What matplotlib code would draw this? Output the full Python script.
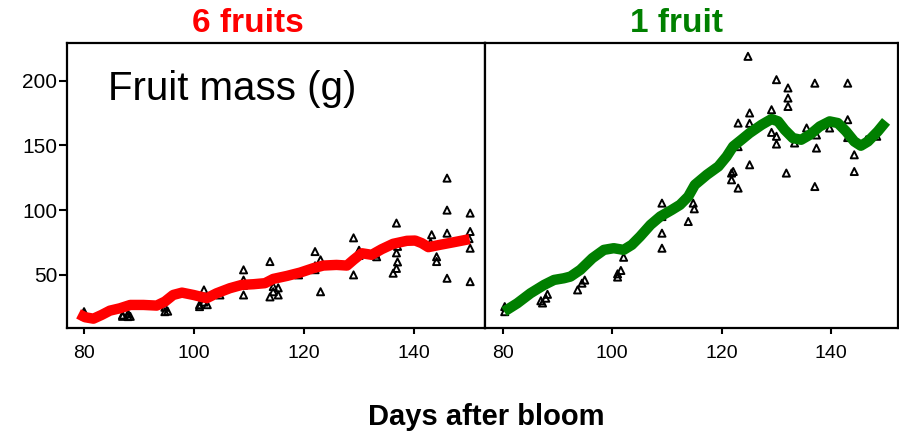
import matplotlib
matplotlib.use("Agg")
import matplotlib.pyplot as plt

plt.rcParams['font.family'] = ['Liberation Sans', 'DejaVu Sans']

# ---- data: 6 fruits (left) ----
six_x = [80, 80, 80, 87, 87, 88, 88, 88.4, 94.7, 94.7, 95.2,
         101, 101, 101.8, 101.8, 102.4, 104.7,
         109, 109, 109, 109, 113.8, 113.8, 114.4, 114.4, 115.3, 115.3, 119,
         122, 122, 122, 123, 123, 129, 129, 130, 130, 130, 133.2, 133,
         136.2, 136.8, 136.8, 136.8, 137, 137, 143.2, 143, 144.1, 144.1,
         146, 146, 146, 146, 150.2, 150.2, 150.2, 150.2, 150]
six_y = [21.6, 18.5, 20, 18, 19, 17.8, 20, 18, 21.6, 25, 22,
         25.5, 27, 29, 38.4, 27, 34.5,
         53.9, 46, 34.5, 42, 60.3, 33, 41, 37, 34.5, 40, 50,
         68, 54, 57, 61.6, 37, 78.6, 50, 69, 66, 65, 64, 66,
         51.3, 90, 67, 55, 60, 72, 81, 75, 60.3, 64,
         124.7, 100, 82.2, 47.4, 97.7, 83.5, 70.6, 44.8, 78]
six_fit_x = [79.0, 80.2, 81.7, 83.2, 84.7, 86.5, 88.4, 90.8, 93.2, 94.7,
             96.2, 97.8, 99.9, 102.3, 104.1, 106.5, 108.7, 110.8, 112.9,
             114.4, 116.9, 119.3, 121.7, 123.5, 125.9, 127.8, 129.0, 130.5,
             132.3, 134.1, 136.2, 138.7, 140.2, 141.4, 142.6, 144.7, 147.2,
             150.1]
six_fit_y = [19.9, 17.3, 16.2, 19.1, 22.4, 24.2, 26.8, 26.8, 26.3, 29.4,
             34.5, 36.3, 34.5, 32.0, 35.8, 39.7, 42.3, 42.8, 43.6,
             46.9, 49.2, 51.8, 55.2, 57.2, 57.7, 57.2, 61.6, 66.7,
             65.5, 69.8, 74.0, 76.3, 76.5, 74.5, 71.4, 73.2, 75.2,
             77.6]

# ---- data: 1 fruit (right) ----
one_x = [80.4, 80.4, 87, 87.3, 87.9, 88.2, 93.7, 94.5, 95,
         101, 101, 101.6, 102.1, 109.1, 109.1, 109.1, 109.1,
         113.9, 114.8, 115, 121.8, 121.8, 122.1, 123, 123, 123,
         124.8, 125.1, 125.1, 125.1, 129.1, 129.1, 130, 130, 130,
         132.1, 132.1, 132.1, 131.8, 133.3, 135.5, 137, 137.3, 137.3, 137,
         139.7, 143, 143, 143, 144.2, 144.2, 146.4, 148.3]
one_y = [21.6, 25.5, 30, 28.3, 32, 35, 38.4, 43.6, 46,
         50.8, 48.3, 53.4, 63.6, 105.4, 95, 82.2, 70.6,
         91.2, 105.4, 101, 128.6, 123.4, 129.8, 117, 167.2, 149,
         218.7, 175, 167, 135, 177.5, 160, 200.7, 157, 151,
         194.3, 186.5, 180, 128.6, 151.8, 163.4, 198, 147.9, 158, 118.2,
         163.4, 198, 169.8, 156, 142.7, 129.8, 154.3, 157]
one_fit_x = [80.3, 82.7, 85.1, 87.6, 89.4, 91.2, 92.4, 94.2, 96.4, 98.5,
             100.3, 102.1, 103.6, 105.1, 107.0, 108.8, 110.9, 112.4, 113.9,
             115.1, 117.3, 119.4, 120.9, 122.1, 123.6, 125.1, 127.3, 129.1,
             130.3, 131.5, 133.0, 134.5, 136.1, 137.9, 139.7, 141.2, 142.7,
             144.2, 145.4, 146.7, 148.5, 150.0]
one_fit_y = [21.7, 28.1, 35.8, 42.3, 46.1, 47.4, 48.7, 53.9, 62.9, 69.3,
             70.6, 69.3, 73.2, 79.6, 88.6, 95.1, 100.2, 104.1, 110.5,
             119.5, 127.3, 133.7, 141.4, 149.2, 154.3, 159.5, 165.9, 170.3,
             168.5, 162.0, 155.6, 154.3, 158.2, 164.6, 168.5, 167.2, 160.8,
             153.0, 149.7, 153.0, 160.8, 168.5]

x_ticks = [80, 100, 120, 140]
y_ticks = [50, 100, 150, 200]

W, H = 899, 436
fig = plt.figure(figsize=(W / 100, H / 100), dpi=100)

top = 1 - 43 / H
bot = 1 - 328 / H
axL = fig.add_axes([67 / W, bot, (485 - 67) / W, top - bot])
axR = fig.add_axes([485 / W, bot, (899 - 485) / W - 0.001, top - bot])

for ax, xs, ys, fx, fy, col in [
        (axL, six_x, six_y, six_fit_x, six_fit_y, '#ff0000'),
        (axR, one_x, one_y, one_fit_x, one_fit_y, '#007f00')]:
    ax.scatter(xs, ys, marker='^', s=26, facecolors='none',
               edgecolors='black', linewidths=1.4, zorder=2)
    ax.plot(fx, fy, color=col, lw=7.5, solid_capstyle='butt',
            solid_joinstyle='round', zorder=3)
    ax.set_ylim(9, 229)
    ax.set_xticks(x_ticks)
    ax.tick_params(axis='x', direction='out', length=4, width=1.5, pad=8,
                   labelsize=14)
    for sp in ax.spines.values():
        sp.set_linewidth(1.6)
        sp.set_color('black')

axL.set_xlim(76.9, 152.9)
axR.set_xlim(76.8, 152.2)

axL.set_yticks(y_ticks)
axL.tick_params(axis='y', direction='out', length=6, width=1.5, pad=1,
                labelsize=15)
axR.set_yticks([])

axL.text((108 - 67) / (485 - 67), 1 - (100 - 43) / (328 - 43),
         'Fruit mass (g)', transform=axL.transAxes, fontsize=29,
         ha='left', va='baseline', color='black')

fig.text(248 / W, 1 - 23 / H, '6 fruits', color='#ff0000', fontsize=24,
         fontweight='bold', ha='center', va='center')
fig.text(677 / W, 1 - 23 / H, '1 fruit', color='#008000', fontsize=24,
         fontweight='bold', ha='center', va='center')
fig.text(486 / W, 1 - 417 / H, 'Days after bloom', color='black', fontsize=21,
         fontweight='bold', ha='center', va='center')

fig.savefig('out.png', dpi=100)
